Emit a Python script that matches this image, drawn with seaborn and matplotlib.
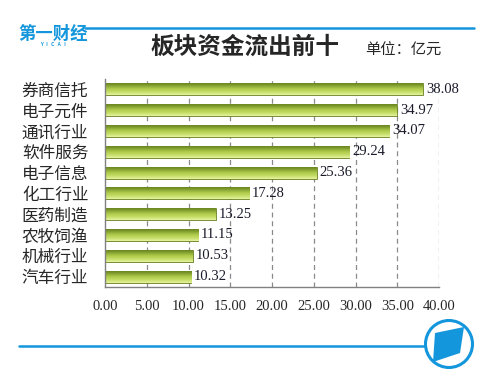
import numpy as np
import matplotlib
matplotlib.use("Agg")
import matplotlib.pyplot as plt
import seaborn as sns
from matplotlib.patches import Circle, Polygon
from matplotlib.lines import Line2D

# data
categories = ["券商信托", "电子元件", "通讯行业", "软件服务", "电子信息",
              "化工行业", "医药制造", "农牧饲渔", "机械行业", "汽车行业"]
outflow = [38.08, 34.97, 34.07, 29.24, 25.36, 17.28, 13.25, 11.15, 10.53, 10.32]
x_ticks = [0, 5, 10, 15, 20, 25, 30, 35, 40]

title = "板块资金流出前十"
unit = "单位：亿元"
brand_blue = "#1496dc"
num_font = ["Liberation Serif", "DejaVu Serif"]

sns.set_style("white")
plt.rcParams["font.family"] = ["Noto Sans CJK SC", "DejaVu Sans"]

fig = plt.figure(figsize=(5, 3.86), dpi=100)
ax = fig.add_axes([105 / 500, 1 - 287 / 386, 334 / 500, 208 / 386])

sns.barplot(x=outflow, y=categories, orient="h", color="#a8c84a",
            width=0.58, edgecolor="#6b8424", linewidth=0.6, ax=ax)

# fake the 3d look of the excel bars with a vertical gradient clipped to each bar
grad = np.linspace(0, 1, 64).reshape(-1, 1)
cmap = matplotlib.colors.LinearSegmentedColormap.from_list(
    "bar", ["#e6f3a0", "#c4dd66", "#adc94a", "#819e2e", "#5f7a1e"])
for p in ax.patches:
    x0, y0 = p.get_x(), p.get_y()
    w, h = p.get_width(), p.get_height()
    im = ax.imshow(grad, cmap=cmap, aspect="auto", extent=(x0, x0 + w, y0, y0 + h),
                   zorder=p.get_zorder() + 0.1, interpolation="bilinear")
    im.set_clip_path(p)
ax.set_xlim(0, 40)
ax.set_ylim(9.5, -0.5)

for i, v in enumerate(outflow):
    ax.text(v + 0.35, i, f"{v:.2f}", va="center", ha="left", fontsize=10.5,
            family=num_font, color="#1a1a2a", zorder=5)

ax.set_xticks(x_ticks)
ax.set_xticklabels([f"{t:.2f}" for t in x_ticks], family=num_font, fontsize=10.5)
for t in x_ticks[1:]:
    ax.axvline(t, color="#8a8a8a", lw=0.9, ls=(0, (4, 3)), zorder=0)

ax.set_yticks(range(len(categories)))
ax.set_yticklabels(categories, fontsize=12)
ax.set_yticks(np.arange(-0.5, len(categories)), minor=True)
ax.tick_params(axis="y", which="major", length=0, pad=12)
ax.tick_params(axis="y", which="minor", length=5, color="#808080", width=0.9, direction="out")
ax.tick_params(axis="x", length=5, color="#808080", width=0.9, direction="out", pad=4)
ax.set_xlabel("")
ax.set_ylabel("")
for s in ["top", "right"]:
    ax.spines[s].set_visible(False)
for s in ["left", "bottom"]:
    ax.spines[s].set_color("#808080")
    ax.spines[s].set_linewidth(1.0)

# header
fig.text(245 / 500, 1 - 47 / 386, title, ha="center", va="center", fontsize=17, fontweight="bold")
fig.text(403 / 500, 1 - 50 / 386, unit, ha="center", va="center", fontsize=11)
fig.add_artist(Line2D([85 / 500, 474 / 500], [1 - 28 / 386] * 2, color=brand_blue, lw=1.8))
fig.text(53 / 500, 1 - 34 / 386, "第一财经", ha="center", va="center", fontsize=12.5,
         fontweight="bold", color=brand_blue)
fig.text(53 / 500, 1 - 45 / 386, "Y   I   C   A   I", ha="center", va="center", fontsize=3.5,
         fontweight="bold", color=brand_blue)

# footer line and round logo
fig.add_artist(Line2D([19 / 500, 425 / 500], [1 - 346 / 386] * 2, color=brand_blue, lw=1.8))
px = fig.dpi_scale_trans
fig.add_artist(Circle((4.49, (386 - 344) / 100), 0.235, fill=False, ec=brand_blue, lw=2.2, transform=px))
para = [(435, 333), (464, 327), (460, 353), (433, 362)]
fig.add_artist(Polygon([(x / 100, (386 - y) / 100) for x, y in para], closed=True,
                       fc=brand_blue, ec="none", transform=px))

fig.savefig("out.png", dpi=100)
